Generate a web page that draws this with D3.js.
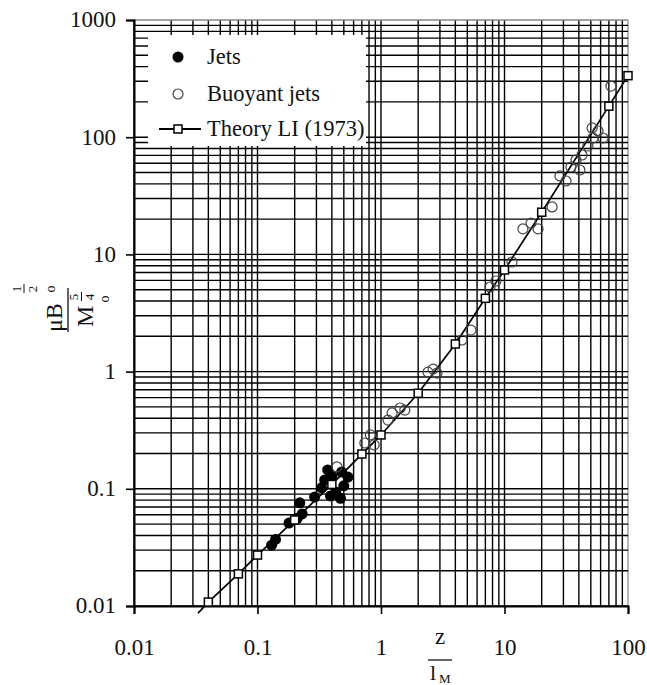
<!DOCTYPE html>
<html>
<head>
<meta charset="utf-8">
<script src="https://cdn.jsdelivr.net/npm/d3@7"></script>
<style>
  html, body { margin: 0; padding: 0; background: #fff; }
  svg { display: block; }
  text { font-family: "Liberation Serif", "Times New Roman", serif; fill: #111; }
</style>
</head>
<body>
<svg id="chart" width="647" height="685"></svg>
<script>
// ---------- data ----------
const xTickValues = [0.01, 0.1, 1, 10, 100];
const xTickLabels = ["0.01", "0.1", "1", "10", "100"];
const yTickValues = [0.01, 0.1, 1, 10, 100, 1000];
const yTickLabels = ["0.01", "0.1", "1", "10", "100", "1000"];

// Jets (filled circles)
const jetsZ   = [0.13, 0.14, 0.18, 0.22, 0.23, 0.21, 0.29, 0.35, 0.40, 0.48, 0.54, 0.43, 0.39, 0.47, 0.33, 0.50, 0.37];
const jetsVal = [0.033, 0.037, 0.051, 0.076, 0.061, 0.056, 0.085, 0.119, 0.128, 0.139, 0.126, 0.094, 0.087, 0.083, 0.102, 0.106, 0.145];

// Buoyant jets (open circles)
const buoyZ   = [0.44, 0.74, 0.82, 0.88, 1.14, 1.23, 1.43, 1.56, 2.40, 2.64, 2.84, 4.53, 5.35, 7.63, 8.53, 11.5, 14.1, 16.4, 18.7, 24.3, 28.1, 31.5, 34.5, 37.9, 42.4, 47.4, 52.1, 57.2, 62.8, 51.2, 72.8, 40.8];
const buoyVal = [0.154, 0.246, 0.288, 0.237, 0.386, 0.444, 0.489, 0.47, 0.99, 1.05, 0.97, 1.86, 2.26, 5.27, 5.93, 8.61, 16.5, 18.5, 16.5, 25.4, 46.7, 42.3, 55.7, 63.9, 70.5, 84.1, 98.4, 113, 98.4, 120, 273, 52.5];

// Theory LI (1973): line points; squares drawn where marked
const theoryZ      = [0.033, 0.04, 0.07, 0.1, 0.2, 0.4, 0.7, 1, 2, 4, 7, 10, 20, 70, 100];
const theoryVal    = [0.0087, 0.0108, 0.0188, 0.0272, 0.0542, 0.109, 0.198, 0.288, 0.653, 1.72, 4.22, 7.36, 22.9, 184, 335];
const theoryMarked = [false, true, true, true, true, true, true, true, true, true, true, true, true, true, true];

const legendLabels = ["Jets", "Buoyant jets", "Theory LI (1973)"];

// ---------- drawing ----------
const svg = d3.select("#chart");
const x = d3.scaleLog().domain([0.01, 100]).range([134, 628]);
const y = d3.scaleLog().domain([0.01, 1000]).range([606, 20]);

// minor+major grid values
function gridVals(lo, hi) {
  const out = [];
  for (let e = Math.round(Math.log10(lo)); e < Math.round(Math.log10(hi)); e++) {
    for (let m = 1; m <= 9; m++) out.push(m * Math.pow(10, e));
  }
  out.push(hi);
  return out;
}
const gx = gridVals(0.01, 100);
const gy = gridVals(0.01, 1000);

const grid = svg.append("g").attr("stroke", "#000").attr("stroke-width", 1.4);
grid.selectAll("line.v").data(gx).join("line")
  .attr("x1", d => x(d)).attr("x2", d => x(d))
  .attr("y1", y(1000)).attr("y2", y(0.01))
  .attr("stroke", d => d === 100 ? "#999" : "#000");
grid.selectAll("line.h").data(gy).join("line")
  .attr("y1", d => y(d)).attr("y2", d => y(d))
  .attr("x1", x(0.01)).attr("x2", x(100))
  .attr("stroke", d => d === 1000 ? "#888" : "#000");

// legend background
const lg = svg.append("g");
lg.append("rect").attr("x", 148).attr("y", 35).attr("width", 218).attr("height", 111).attr("fill", "#fff");

// axes
const xAxis = d3.axisBottom(x).tickValues(xTickValues).tickFormat((d, i) => xTickLabels[i]).tickSize(8).tickPadding(26);
const yAxis = d3.axisLeft(y).tickValues(yTickValues).tickFormat((d, i) => yTickLabels[i]).tickSize(8).tickPadding(10);

const gxA = svg.append("g").attr("transform", `translate(0,${y(0.01)})`).call(xAxis);
const gyA = svg.append("g").attr("transform", `translate(${x(0.01)},0)`).call(yAxis);
[gxA, gyA].forEach(g => {
  g.select(".domain").attr("stroke", "#000").attr("stroke-width", 2);
  g.selectAll(".tick line").attr("stroke", "#000").attr("stroke-width", 1.6);
  g.selectAll(".tick text").attr("font-family", "Liberation Serif").attr("font-size", 23).attr("fill", "#111");
});
gxA.selectAll(".tick text").attr("dy", "0.66em");
gyA.selectAll(".tick text").attr("dy", "0.3em");

// theory line
const line = d3.line().x((d, i) => x(theoryZ[i])).y((d, i) => y(theoryVal[i]));
svg.append("path").datum(theoryZ).attr("d", line)
  .attr("fill", "none").attr("stroke", "#000").attr("stroke-width", 1.7);

// jets
svg.append("g").selectAll("circle").data(jetsZ).join("circle")
  .attr("cx", (d, i) => x(jetsZ[i])).attr("cy", (d, i) => y(jetsVal[i]))
  .attr("r", 5.5).attr("fill", "#000");

// buoyant jets
svg.append("g").selectAll("circle").data(buoyZ).join("circle")
  .attr("cx", (d, i) => x(buoyZ[i])).attr("cy", (d, i) => y(buoyVal[i]))
  .attr("r", 5).attr("fill", "none").attr("stroke", "#444").attr("stroke-width", 1.2);

// theory squares
const sq = 8;
svg.append("g").selectAll("rect").data(theoryZ.filter((d, i) => theoryMarked[i])).join("rect")
  .attr("x", d => x(d) - sq / 2)
  .attr("y", d => y(theoryVal[theoryZ.indexOf(d)]) - sq / 2)
  .attr("width", sq).attr("height", sq)
  .attr("fill", "#fff").attr("stroke", "#000").attr("stroke-width", 1.5);

// legend items
const lx = 178, tx = 207;
const rows = [57, 94, 129];
lg.append("circle").attr("cx", lx).attr("cy", rows[0]).attr("r", 5.5).attr("fill", "#000");
lg.append("circle").attr("cx", lx).attr("cy", rows[1]).attr("r", 5).attr("fill", "none").attr("stroke", "#444").attr("stroke-width", 1.2);
lg.append("line").attr("x1", 159).attr("x2", 201).attr("y1", rows[2]).attr("y2", rows[2]).attr("stroke", "#000").attr("stroke-width", 2.2);
lg.append("rect").attr("x", lx - 4).attr("y", rows[2] - 4).attr("width", 8).attr("height", 8)
  .attr("fill", "#fff").attr("stroke", "#000").attr("stroke-width", 1.5);
legendLabels.forEach((t, i) => {
  lg.append("text").attr("x", tx).attr("y", rows[i] + 7).attr("font-size", 22.5).text(t);
});

// y-axis label (rotated fraction): μB_o^(1/2) / M_o^(5/4)
const yl = svg.append("g").attr("transform", "translate(68,310) rotate(-90)");
yl.append("line").attr("x1", -22).attr("x2", 22).attr("y1", 0).attr("y2", 0).attr("stroke", "#111").attr("stroke-width", 1.3);
yl.append("text").attr("x", -22).attr("y", -6).attr("font-size", 24).text("μB");
yl.append("text").attr("x", 21).attr("y", -47).attr("font-size", 13).attr("text-anchor", "middle").text("1");
yl.append("line").attr("x1", 17).attr("x2", 26).attr("y1", -44).attr("y2", -44).attr("stroke", "#111").attr("stroke-width", 1);
yl.append("text").attr("x", 21).attr("y", -31).attr("font-size", 13).attr("text-anchor", "middle").text("2");
yl.append("text").attr("x", 21).attr("y", -13).attr("font-size", 14).attr("text-anchor", "middle").text("o");
yl.append("text").attr("x", -17).attr("y", 25).attr("font-size", 24).text("M");
yl.append("text").attr("x", 13).attr("y", 10).attr("font-size", 13).attr("text-anchor", "middle").text("5");
yl.append("line").attr("x1", 9).attr("x2", 18).attr("y1", 13.5).attr("y2", 13.5).attr("stroke", "#111").attr("stroke-width", 1);
yl.append("text").attr("x", 13).attr("y", 26).attr("font-size", 13).attr("text-anchor", "middle").text("4");
yl.append("text").attr("x", 11).attr("y", 41).attr("font-size", 14).attr("text-anchor", "middle").text("o");

// x-axis label: z / l_M
const xl = svg.append("g");
xl.append("text").attr("x", 440).attr("y", 644).attr("font-size", 23).attr("text-anchor", "middle").text("z");
xl.append("line").attr("x1", 428).attr("x2", 452).attr("y1", 660).attr("y2", 660).attr("stroke", "#111").attr("stroke-width", 1.3);
xl.append("text").attr("x", 430).attr("y", 680).attr("font-size", 22).text("l");
xl.append("text").attr("x", 439).attr("y", 683).attr("font-size", 13).text("M");
</script>
</body>
</html>
